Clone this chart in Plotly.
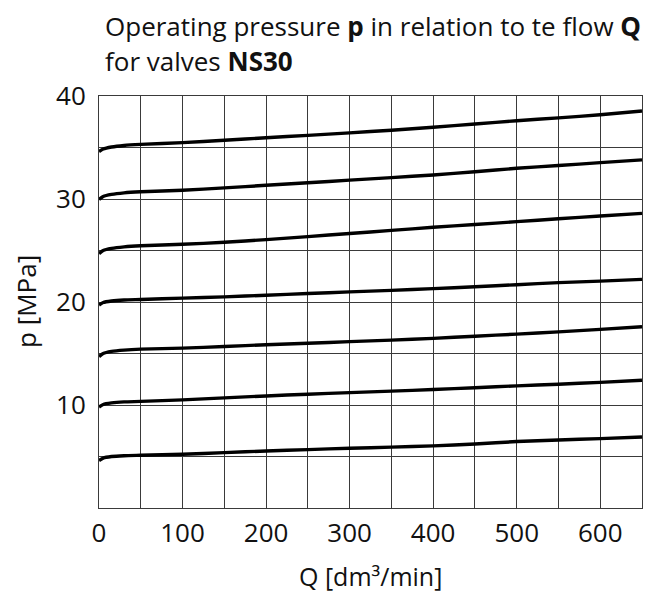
import plotly.graph_objects as go

Q = [0, 5, 15, 30, 50, 100, 150, 200, 250, 300, 350, 400, 450, 500, 550, 600, 650]

p35 = [34.6, 34.85, 35.05, 35.2, 35.3, 35.47, 35.7, 35.95, 36.18, 36.42, 36.68, 36.97, 37.28, 37.6, 37.88, 38.18, 38.55]
p30 = [29.95, 30.25, 30.45, 30.6, 30.7, 30.85, 31.08, 31.33, 31.58, 31.83, 32.08, 32.33, 32.65, 32.98, 33.25, 33.53, 33.8]
p25 = [24.7, 25.0, 25.2, 25.35, 25.46, 25.6, 25.8, 26.06, 26.35, 26.65, 26.95, 27.25, 27.52, 27.8, 28.08, 28.35, 28.6]
p20 = [19.7, 19.95, 20.1, 20.2, 20.25, 20.38, 20.5, 20.66, 20.82, 20.98, 21.13, 21.3, 21.48, 21.68, 21.88, 22.03, 22.2]
p15 = [14.7, 15.0, 15.2, 15.33, 15.42, 15.52, 15.68, 15.85, 16.0, 16.15, 16.3, 16.47, 16.68, 16.88, 17.1, 17.34, 17.59]
p10 = [9.8, 10.05, 10.2, 10.3, 10.35, 10.5, 10.69, 10.88, 11.05, 11.2, 11.35, 11.5, 11.68, 11.86, 12.02, 12.2, 12.41]
p05 = [4.6, 4.85, 5.0, 5.08, 5.12, 5.22, 5.38, 5.53, 5.67, 5.8, 5.91, 6.03, 6.22, 6.45, 6.6, 6.74, 6.9]

x_tickvals = [0, 50, 100, 150, 200, 250, 300, 350, 400, 450, 500, 550, 600, 650]
x_ticktext = ["0", "", "100", "", "200", "", "300", "", "400", "", "500", "", "600", ""]
y_tickvals = [0, 5, 10, 15, 20, 25, 30, 35, 40]
y_ticktext = ["", "", "10", "", "20", "", "30", "", "40"]

title_line1 = "Operating pressure <b>p</b> in relation to te flow <b>Q</b>"
title_line2 = "for valves <b>NS30</b>"
x_title = "Q [dm³/min]"
y_title = "p [MPa]"

FONT = "Open Sans"
FS = 26
TXT = "#111111"
fig = go.Figure()
for series in [p05, p10, p15, p20, p25, p30, p35]:
    fig.add_trace(go.Scatter(x=Q, y=series, mode="lines",
                             line=dict(color="black", width=3.4, shape="spline", smoothing=0.6),
                             showlegend=False, hoverinfo="skip"))

grid_color = "#3a3a3a"
axis_common = dict(showgrid=True, gridcolor=grid_color, gridwidth=1,
                   showline=True, linecolor=grid_color, linewidth=1, mirror=True,
                   ticks="", zeroline=False,
                   tickfont=dict(family=FONT, size=FS, color=TXT))
fig.update_xaxes(range=[0, 650], tickmode="array", tickvals=x_tickvals, ticktext=x_ticktext,
                 ticklabelstandoff=2, **axis_common)
fig.update_yaxes(range=[0, 40], tickmode="array", tickvals=y_tickvals, ticktext=y_ticktext,
                 ticklabelstandoff=7, **axis_common)

fig.update_layout(
    width=647, height=587,
    margin=dict(l=91, r=13, t=88, b=87),
    plot_bgcolor="white", paper_bgcolor="white",
    font=dict(family=FONT, size=FS, color=TXT),
    annotations=[
        dict(text=title_line1, xref="paper", yref="paper", x=0, y=1.0, xanchor="left", yanchor="middle",
             xshift=4, yshift=70, showarrow=False, font=dict(family=FONT, size=FS, color=TXT)),
        dict(text=title_line2, xref="paper", yref="paper", x=0, y=1.0, xanchor="left", yanchor="middle",
             xshift=4, yshift=35, showarrow=False, font=dict(family=FONT, size=FS, color=TXT)),
        dict(text=x_title, xref="paper", yref="paper", x=0.5, y=0, xanchor="center", yanchor="middle",
             yshift=-68, showarrow=False, font=dict(family=FONT, size=25, color=TXT)),
        dict(text=y_title, xref="paper", yref="paper", x=0, y=0.5, xanchor="center", yanchor="middle",
             xshift=-73, textangle=-90, showarrow=False, font=dict(family=FONT, size=FS, color=TXT)),
    ],
)

fig.write_html("out.html")
